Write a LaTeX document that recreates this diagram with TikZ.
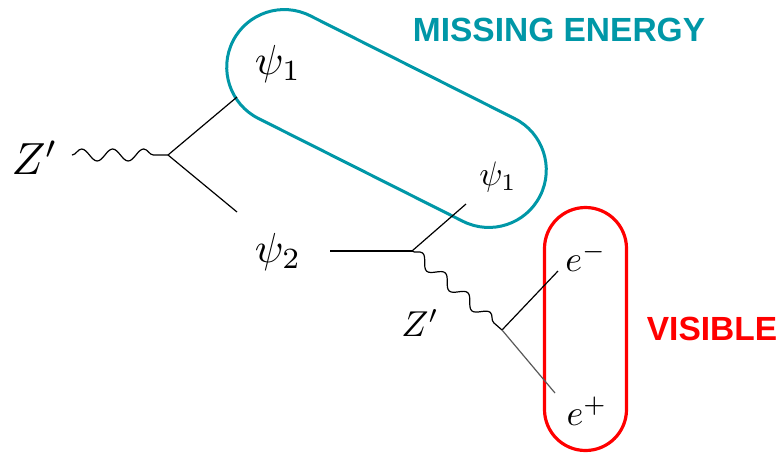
\documentclass[tikz,border=0pt]{standalone}
\usepackage{fontspec}
\setsansfont{Liberation Sans}
\usetikzlibrary{decorations.pathmorphing,positioning}
\definecolor{missteal}{RGB}{0,151,167}
\definecolor{visred}{RGB}{255,0,0}
\newcommand{\bigmath}[2]{\scalebox{#1}{$#2$}}

\begin{document}
\begin{tikzpicture}[x=1pt, y=-1pt,
      fermion/.style={draw=black, line width=1.2pt},
      photon/.style={draw=black, line width=1.2pt, decorate,
        decoration={snake, amplitude=6pt, segment length=31pt}},
      lbl/.style={inner sep=0pt},
      tag/.style={font=\fontsize{33.5}{40}\selectfont\sffamily\bfseries, inner sep=0pt}]

    \useasboundingbox (0,0) rectangle (782,456);

    \node[draw=missteal, line width=3pt, rectangle, rounded corners=57.5pt,
          minimum width=344pt, minimum height=115pt, inner sep=0pt,
          rotate=-26.7] (missbox) at (386.5,118.5) {};
    \node[draw=visred, line width=3.2pt, rectangle, rounded corners=41pt,
          minimum width=82pt, minimum height=243pt, inner sep=0pt] (visbox) at (585.5,329) {};

    \node[tag, text=missteal] (misstag) at (559,30) {MISSING ENERGY};
    \node[tag, text=visred]   (vistag)  at (712,329) {VISIBLE};

    \node[lbl] (zl)   at (35,158)  {\bigmath{4.5}{Z'}};
    \node[lbl] (psiA) at (278,64)  {\bigmath{4.2}{\psi_1}};
    \node[lbl] (psiB) at (278,252) {\bigmath{4.2}{\psi_2}};
    \node[lbl] (psiC) at (498,177) {\bigmath{3.4}{\psi_1}};
    \node[lbl] (zr)   at (420,323) {\bigmath{3.6}{Z'}};
    \node[lbl] (em)   at (586,257) {\bigmath{3.6}{e^-}};
    \node[lbl] (ep)   at (587,411) {\bigmath{3.6}{e^+}};

    \coordinate (zin)  at (72,155);
    \coordinate (v1)   at (168,155);
    \coordinate (qa)   at (237,97);
    \coordinate (qb)   at (237,212);
    \coordinate (qc)   at (330,251);
    \coordinate (v2)   at (412,251);
    \coordinate (qd)   at (466,204);
    \coordinate (v3)   at (502,330);
    \coordinate (qe)   at (558,271);
    \coordinate (qf)   at (555,393);

    \draw[photon] (zin) -- (v1);
    \draw[fermion] (v1) -- (qa);
    \draw[fermion] (v1) -- (qb);
    \draw[fermion] (qc) -- (v2);
    \draw[fermion] (v2) -- (qd);
    \draw[photon, decoration={segment length=30pt, amplitude=5.5pt}] (v2) -- (v3);
    \draw[fermion] (v3) -- (qe);
    \draw[fermion, draw=black!65] (v3) -- (qf);
  \end{tikzpicture}
\end{document}
